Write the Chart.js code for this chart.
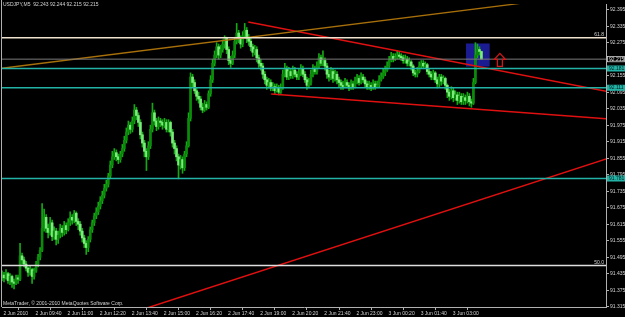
<!DOCTYPE html>
<html><head><meta charset="utf-8">
<script src="https://cdn.jsdelivr.net/npm/chart.js@4/dist/chart.umd.min.js"></script>
<style>html,body{margin:0;padding:0;background:#000;}#wrap{width:625px;height:317px;}</style>
</head><body><div id="wrap"><canvas id="c" width="625" height="317"></canvas></div>
<script>
// ---------- DATA ----------
const titleText = 'USDJPY,M5  92.243 92.244 92.215 92.215';
const copyrightText = 'MetaTrader, \u00a9 2001-2010 MetaQuotes Software Corp.';
const xTickLabels = ['2 Jun 2010','2 Jun 09:40','2 Jun 11:00','2 Jun 12:20','2 Jun 13:40','2 Jun 15:00','2 Jun 16:20','2 Jun 17:40','2 Jun 19:00','2 Jun 20:20','2 Jun 21:40','2 Jun 23:00','3 Jun 00:20','3 Jun 01:40','3 Jun 03:00'];
const barsPerLabel = 16;
const yTickValues = [92.395,92.335,92.275,92.215,92.155,92.095,92.035,91.975,91.915,91.855,91.795,91.735,91.675,91.615,91.555,91.495,91.435,91.375,91.315];

const opens = [
91.425,91.430,91.420,91.435,91.410,91.425,91.405,91.400,91.420,91.415,
91.500,91.485,91.470,91.455,91.440,91.450,91.425,91.445,91.470,91.495,
91.520,91.600,91.640,91.600,91.585,91.620,91.570,91.590,91.560,91.575,
91.600,91.585,91.610,91.595,91.620,91.640,91.630,91.655,91.625,91.615,
91.590,91.565,91.545,91.530,91.560,91.595,91.620,91.645,91.660,91.680,
91.700,91.720,91.745,91.760,91.790,91.830,91.860,91.875,91.860,91.850,
91.870,91.890,91.920,91.950,91.975,91.960,91.990,92.030,92.010,91.985,
91.940,91.910,91.880,91.860,91.900,91.960,92.020,91.990,91.970,91.990,
91.985,91.975,91.985,91.960,91.985,91.950,91.910,91.890,91.860,91.830,
91.850,91.820,91.870,91.900,92.000,92.150,92.130,92.100,92.080,92.070,
92.040,92.030,92.050,92.040,92.090,92.140,92.200,92.230,92.260,92.230,
92.250,92.270,92.290,92.250,92.210,92.200,92.230,92.280,92.310,92.290,
92.270,92.300,92.320,92.290,92.280,92.260,92.240,92.250,92.220,92.200,
92.190,92.160,92.140,92.120,92.130,92.110,92.115,92.100,92.110,92.095,
92.110,92.160,92.180,92.150,92.170,92.155,92.175,92.160,92.150,92.165,
92.180,92.160,92.140,92.120,92.130,92.160,92.180,92.170,92.190,92.220,
92.200,92.210,92.190,92.160,92.150,92.170,92.145,92.160,92.140,92.130,
92.120,92.115,92.130,92.120,92.110,92.125,92.115,92.135,92.145,92.130,
92.150,92.140,92.125,92.115,92.120,92.110,92.125,92.115,92.120,92.140,
92.150,92.165,92.175,92.190,92.210,92.225,92.215,92.220,92.230,92.225,
92.220,92.210,92.215,92.200,92.205,92.190,92.165,92.160,92.170,92.190,
92.200,92.190,92.195,92.170,92.160,92.150,92.165,92.140,92.125,92.150,
92.135,92.145,92.120,92.095,92.080,92.100,92.075,92.085,92.065,92.080,
92.060,92.075,92.065,92.080,92.060,92.055,92.130,92.230,92.250,92.243];
const highs = [
91.445,91.440,91.450,91.440,91.435,91.430,91.415,91.430,91.430,91.545,
91.510,91.495,91.480,91.460,91.465,91.455,91.455,91.480,91.505,91.530,
91.690,91.670,91.650,91.615,91.640,91.630,91.605,91.600,91.590,91.615,
91.610,91.625,91.620,91.635,91.660,91.650,91.665,91.660,91.635,91.625,
91.600,91.575,91.555,91.570,91.605,91.630,91.655,91.675,91.695,91.715,
91.735,91.760,91.775,91.800,91.845,91.880,91.890,91.885,91.870,91.880,
91.905,91.935,91.965,91.990,91.985,92.005,92.050,92.040,92.020,91.995,
91.950,91.920,91.890,91.915,91.975,92.055,92.030,92.000,92.005,92.000,
91.995,92.000,91.995,91.995,91.990,91.960,91.920,91.900,91.870,91.865,
91.860,91.880,91.915,92.020,92.165,92.160,92.140,92.110,92.095,92.080,
92.055,92.065,92.060,92.100,92.155,92.215,92.245,92.275,92.270,92.265,
92.285,92.300,92.295,92.260,92.225,92.245,92.295,92.345,92.320,92.300,
92.315,92.345,92.330,92.305,92.290,92.270,92.265,92.260,92.230,92.215,
92.200,92.170,92.150,92.145,92.140,92.130,92.125,92.125,92.120,92.125,
92.175,92.200,92.190,92.185,92.180,92.190,92.185,92.170,92.180,92.195,
92.190,92.170,92.150,92.145,92.175,92.195,92.190,92.205,92.235,92.230,
92.245,92.220,92.200,92.175,92.185,92.180,92.175,92.170,92.150,92.140,
92.135,92.145,92.140,92.130,92.140,92.135,92.150,92.160,92.155,92.165,
92.160,92.150,92.135,92.135,92.130,92.140,92.135,92.135,92.155,92.165,
92.180,92.190,92.205,92.225,92.240,92.235,92.235,92.245,92.240,92.235,
92.230,92.230,92.225,92.220,92.210,92.195,92.175,92.185,92.205,92.210,
92.210,92.205,92.200,92.180,92.170,92.175,92.170,92.150,92.160,92.160,
92.155,92.150,92.125,92.105,92.115,92.110,92.100,92.095,92.095,92.090,
92.090,92.085,92.095,92.090,92.070,92.145,92.275,92.270,92.260,92.244];
const lows = [
91.410,91.405,91.415,91.400,91.395,91.385,91.380,91.395,91.400,91.410,
91.470,91.460,91.445,91.425,91.430,91.400,91.415,91.440,91.460,91.485,
91.515,91.590,91.585,91.565,91.575,91.555,91.560,91.540,91.545,91.565,
91.570,91.575,91.580,91.590,91.610,91.615,91.620,91.610,91.595,91.575,
91.550,91.530,91.505,91.515,91.550,91.585,91.610,91.635,91.650,91.670,
91.690,91.710,91.735,91.750,91.780,91.820,91.850,91.845,91.835,91.840,
91.860,91.880,91.910,91.940,91.945,91.950,91.980,91.995,91.970,91.925,
91.895,91.860,91.810,91.850,91.890,91.950,91.975,91.955,91.960,91.970,
91.960,91.965,91.950,91.950,91.935,91.895,91.870,91.845,91.780,91.815,
91.800,91.810,91.860,91.895,91.990,92.115,92.090,92.065,92.055,92.030,
92.020,92.025,92.030,92.035,92.080,92.130,92.190,92.220,92.215,92.220,
92.240,92.255,92.235,92.195,92.185,92.195,92.220,92.270,92.275,92.255,
92.260,92.290,92.275,92.265,92.245,92.225,92.230,92.205,92.185,92.175,
92.145,92.125,92.105,92.110,92.100,92.100,92.090,92.095,92.085,92.090,
92.105,92.150,92.140,92.140,92.145,92.145,92.150,92.140,92.140,92.155,
92.150,92.130,92.105,92.110,92.120,92.150,92.160,92.160,92.180,92.190,
92.190,92.175,92.145,92.135,92.140,92.130,92.135,92.125,92.115,92.105,
92.105,92.110,92.110,92.100,92.105,92.105,92.110,92.125,92.120,92.125,
92.130,92.115,92.105,92.105,92.100,92.105,92.105,92.110,92.115,92.135,
92.145,92.155,92.170,92.185,92.205,92.205,92.210,92.215,92.215,92.210,
92.200,92.200,92.190,92.190,92.175,92.155,92.150,92.150,92.165,92.180,
92.180,92.180,92.160,92.150,92.140,92.140,92.130,92.110,92.115,92.120,
92.125,92.105,92.075,92.065,92.070,92.060,92.065,92.050,92.055,92.050,
92.050,92.050,92.055,92.045,92.040,92.050,92.125,92.220,92.230,92.215];
const closes = [
91.430,91.420,91.435,91.410,91.425,91.405,91.400,91.420,91.415,91.500,
91.485,91.470,91.455,91.440,91.450,91.425,91.445,91.470,91.495,91.520,
91.600,91.640,91.600,91.585,91.620,91.570,91.590,91.560,91.575,91.600,
91.585,91.610,91.595,91.620,91.640,91.630,91.655,91.625,91.615,91.590,
91.565,91.545,91.530,91.560,91.595,91.620,91.645,91.660,91.680,91.700,
91.720,91.745,91.760,91.790,91.830,91.860,91.875,91.860,91.850,91.870,
91.890,91.920,91.950,91.975,91.960,91.990,92.030,92.010,91.985,91.940,
91.910,91.880,91.860,91.900,91.960,92.020,91.990,91.970,91.990,91.985,
91.975,91.985,91.960,91.985,91.950,91.910,91.890,91.860,91.830,91.850,
91.820,91.870,91.900,92.000,92.150,92.130,92.100,92.080,92.070,92.040,
92.030,92.050,92.040,92.090,92.140,92.200,92.230,92.260,92.230,92.250,
92.270,92.290,92.250,92.210,92.200,92.230,92.280,92.310,92.290,92.270,
92.300,92.320,92.290,92.280,92.260,92.240,92.250,92.220,92.200,92.190,
92.160,92.140,92.120,92.130,92.110,92.115,92.100,92.110,92.095,92.110,
92.160,92.180,92.150,92.170,92.155,92.175,92.160,92.150,92.165,92.180,
92.160,92.140,92.120,92.130,92.160,92.180,92.170,92.190,92.220,92.200,
92.210,92.190,92.160,92.150,92.170,92.145,92.160,92.140,92.130,92.120,
92.115,92.130,92.120,92.110,92.125,92.115,92.135,92.145,92.130,92.150,
92.140,92.125,92.115,92.120,92.110,92.125,92.115,92.120,92.140,92.150,
92.165,92.175,92.190,92.210,92.225,92.215,92.220,92.230,92.225,92.220,
92.210,92.215,92.200,92.205,92.190,92.165,92.160,92.170,92.190,92.200,
92.190,92.195,92.170,92.160,92.150,92.165,92.140,92.125,92.150,92.135,
92.145,92.120,92.095,92.080,92.100,92.075,92.085,92.065,92.080,92.060,
92.075,92.065,92.080,92.060,92.055,92.130,92.230,92.250,92.243,92.215];

// chart objects (anchored at bar index / price)
const fiboPrices = [92.293, 91.465];
const fiboNames = ['61.8', '50.0'];
const supportPrices = [92.181, 92.111, 91.781];
const bidPrice = 92.215;
const orangeTrend = [[-2, 92.180], [300, 92.456]];
const redTrends = [
  [[122.8, 92.350], [302, 92.097]],
  [[134.2, 92.088], [302, 91.998]],
  [[70, 91.305], [302, 91.854]]
];
const rectIdx = [231.3, 243.1];
const rectPrice = [92.272, 92.188];
const arrowAnchor = [248.2, 92.236];

// ---------- LAYOUT / STYLE ----------
const xMin = 0, xMax = 301.1;
const yMin = 91.3139, yMax = 92.4155;
const txt = '#d4d4d4', axisCol = '#b0b0b0';
const FONT = "'Liberation Sans', Arial, sans-serif";
const bullColor = '#0b8a0b', bearColor = '#7aec7a', wickColor = '#14a814';
const tealCol = '#22b2a6';

const idx = closes.map((_, i) => i);
const wickData = idx.map(i => ({x: i, y: [lows[i], highs[i]]}));
const bodyData = idx.map(i => ({x: i, y: [opens[i], closes[i]]}));
const bodyColors = idx.map(i => closes[i] >= opens[i] ? bullColor : bearColor);
const hl = p => [{x: xMin - 5, y: p}, {x: xMax + 5, y: p}];
const seg = s => s.map(pt => ({x: pt[0], y: pt[1]}));

const lineDS = (data, color, w) => ({type: 'line', data, borderColor: color, borderWidth: w, pointRadius: 0, fill: false, order: 0, tension: 0});

const datasets = [
  lineDS(hl(bidPrice), '#7a7a7a', 1),
  lineDS(hl(fiboPrices[0]), '#efe3cf', 1.5),
  lineDS(hl(fiboPrices[1]), '#dedede', 1.5),
  ...supportPrices.map(p => lineDS(hl(p), tealCol, 1.5)),
  lineDS(seg(orangeTrend), '#a8700a', 1.3),
  ...redTrends.map(t => lineDS(seg(t), '#e01010', 1.5)),
  {type: 'bar', data: bodyData, backgroundColor: bodyColors, barThickness: 2, minBarLength: 1, grouped: false, order: 1, borderWidth: 0},
  {type: 'bar', data: wickData, backgroundColor: wickColor, barThickness: 1, grouped: false, order: 2, borderWidth: 0}
];

const decor = {
  id: 'decor',
  beforeDraw(chart) {
    const c = chart.ctx;
    c.save(); c.fillStyle = '#000'; c.fillRect(0, 0, chart.width, chart.height); c.restore();
  },
  beforeDatasetsDraw(chart) {
    const c = chart.ctx, x = chart.scales.x, y = chart.scales.y;
    const x0 = x.getPixelForValue(rectIdx[0]), x1 = x.getPixelForValue(rectIdx[1]);
    const y0 = y.getPixelForValue(rectPrice[0]), y1 = y.getPixelForValue(rectPrice[1]);
    c.save(); c.fillStyle = '#1c1c92'; c.fillRect(x0, y0, x1 - x0, y1 - y0); c.restore();
  },
  afterDraw(chart) {
    const c = chart.ctx, x = chart.scales.x, y = chart.scales.y, a = chart.chartArea;
    c.save();
    // left frame
    c.strokeStyle = axisCol; c.lineWidth = 1;
    c.beginPath(); c.moveTo(1.5, 0); c.lineTo(1.5, a.bottom); c.stroke();
    // arrow
    const ax = x.getPixelForValue(arrowAnchor[0]), ay = y.getPixelForValue(arrowAnchor[1]);
    c.strokeStyle = '#d01818'; c.lineWidth = 1.3;
    c.beginPath();
    c.moveTo(ax, ay); c.lineTo(ax + 5.5, ay + 6); c.lineTo(ax + 2.5, ay + 6); c.lineTo(ax + 2.5, ay + 13);
    c.lineTo(ax - 2.5, ay + 13); c.lineTo(ax - 2.5, ay + 6); c.lineTo(ax - 5.5, ay + 6); c.closePath(); c.stroke();
    // texts
    c.font = '5px ' + FONT; c.fillStyle = txt; c.textBaseline = 'middle'; c.textAlign = 'left';
    c.fillText(titleText, 3, 5);
    c.fillText(copyrightText, 3, 304);
    c.textAlign = 'right';
    fiboPrices.forEach((p, k) => c.fillText(fiboNames[k], a.right - 2, y.getPixelForValue(p) - 3));
    // price boxes on right axis
    c.textAlign = 'left';
    const box = (p, bg, fg, border) => {
      const py = y.getPixelForValue(p);
      c.fillStyle = bg; c.fillRect(a.right + 1, py - 3, 18, 6);
      if (border) { c.strokeStyle = border; c.lineWidth = 0.8; c.strokeRect(a.right + 1.5, py - 2.6, 17, 5.2); }
      c.fillStyle = fg; c.fillText(p.toFixed(3), a.right + 3, py + 0.3);
    };
    box(bidPrice, '#000', '#e8e8e8', '#cfcfcf');
    supportPrices.forEach(p => box(p, tealCol, '#06201e'));
    c.restore();
  }
};

new Chart(document.getElementById('c'), {
  data: {datasets},
  options: {
    responsive: false, animation: false, devicePixelRatio: 1,
    layout: {padding: {left: 2, top: 0, right: 0, bottom: 0}},
    plugins: {legend: {display: false}, tooltip: {enabled: false}},
    scales: {
      x: {
        type: 'linear', min: xMin, max: xMax, offset: false,
        afterFit(s) { s.height = 10; },
        afterBuildTicks(s) { s.ticks = xTickLabels.map((t, k) => ({value: k * barsPerLabel})); },
        ticks: {align: 'start', color: txt, font: {size: 5, family: FONT}, padding: 1, maxRotation: 0, autoSkip: false,
          callback: (v, k) => ' ' + xTickLabels[k]},
        grid: {drawOnChartArea: false, drawTicks: true, tickLength: 3, color: axisCol},
        border: {color: axisCol, width: 1}
      },
      y: {
        position: 'right', min: yMin, max: yMax,
        afterFit(s) { s.width = 19; },
        afterBuildTicks(s) { s.ticks = yTickValues.map(v => ({value: v})); },
        ticks: {color: txt, font: {size: 5, family: FONT}, padding: 1, callback: v => v.toFixed(3)},
        grid: {drawOnChartArea: false, drawTicks: true, tickLength: 3, color: axisCol},
        border: {color: axisCol, width: 1}
      }
    }
  },
  plugins: [decor]
});
</script>
</body></html>
